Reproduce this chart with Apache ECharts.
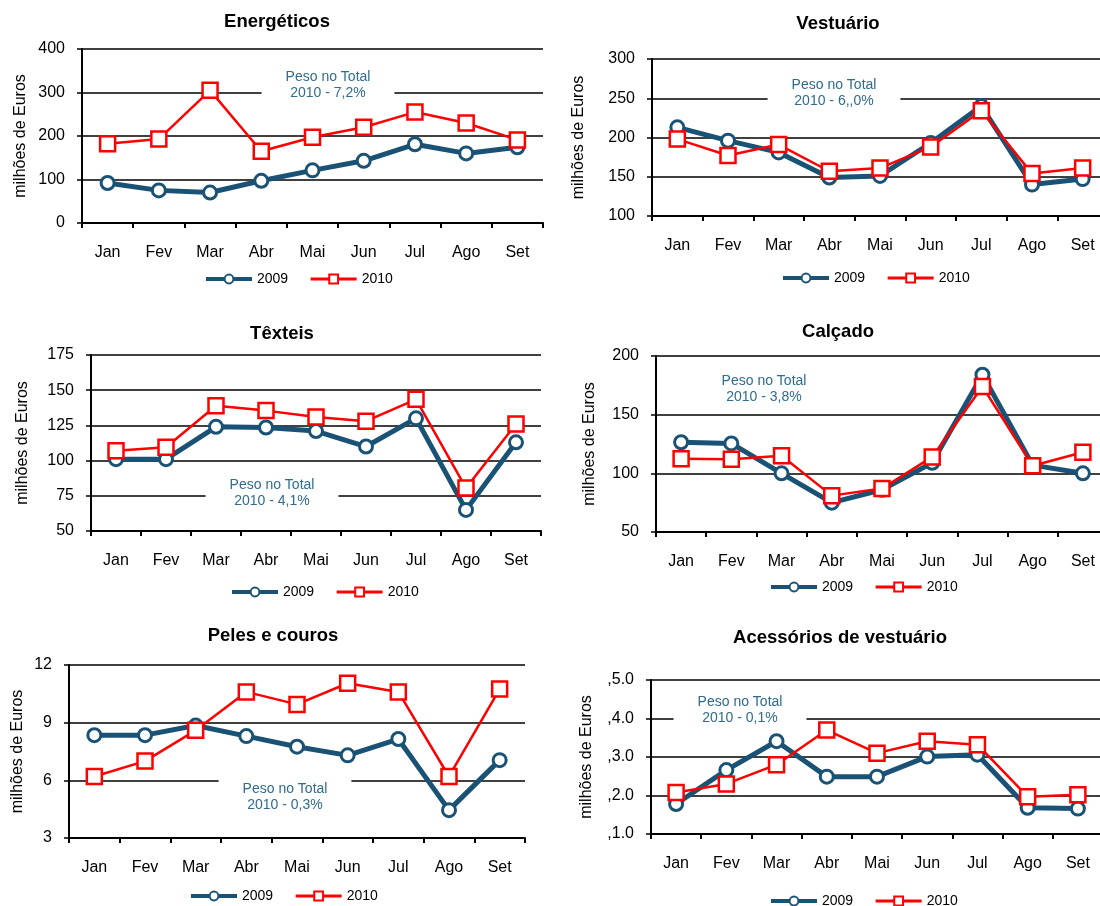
<!DOCTYPE html>
<html>
<head>
<meta charset="utf-8">
<script src="https://cdn.jsdelivr.net/npm/echarts@6/dist/echarts.min.js"></script>
<style>
  html, body { margin: 0; padding: 0; background: #fff; }
  #chart { width: 1100px; height: 906px; }
</style>
</head>
<body>
<div id="chart"></div>
<script>
// meses (eixo das categorias)
var meses = ["Jan", "Fev", "Mar", "Abr", "Mai", "Jun", "Jul", "Ago", "Set"];
var anos = ["2009", "2010"];

// valores (milhões de euros)
var energeticos2009 = [92, 75, 70, 97, 121, 143, 181, 160, 174];
var energeticos2010 = [182, 193, 305, 165, 197, 220, 255, 230, 191];
var vestuario2009 = [213, 196, 181, 149, 151, 193, 240, 140, 147];
var vestuario2010 = [198, 177, 191, 157, 161, 188, 234, 154, 161];
var texteis2009 = [101, 101, 124, 123.5, 121, 110, 130, 65, 113];
var texteis2010 = [107, 109.5, 139, 135.5, 131, 128, 143.5, 80.5, 126];
var calcado2009 = [126.5, 125.5, 100, 75, 86, 109, 184, 107, 100];
var calcado2010 = [112.5, 112, 115, 81, 87, 114, 174, 106.5, 118];
var peles2009 = [8.35, 8.35, 8.85, 8.3, 7.75, 7.3, 8.15, 4.45, 7.05];
var peles2010 = [6.2, 7.0, 8.6, 10.6, 9.95, 11.05, 10.6, 6.2, 10.75];
var acessorios2009 = [1.78, 2.66, 3.41, 2.49, 2.49, 3.01, 3.06, 1.68, 1.66];
var acessorios2010 = [2.08, 2.30, 2.80, 3.70, 3.10, 3.41, 3.32, 1.97, 2.02];

// eixos y: min, max, intervalo
var eixosMin = [0, 100, 50, 50, 3, 1];
var eixosMax = [400, 300, 175, 200, 12, 5];
var eixosIntervalo = [100, 50, 25, 50, 3, 1];

var titulos = ["Energéticos", "Vestuário", "Têxteis", "Calçado", "Peles e couros", "Acessórios de vestuário"];
var notas = [
  "Peso no Total\n2010 - 7,2%",
  "Peso no Total\n2010 - 6,,0%",
  "Peso no Total\n2010 - 4,1%",
  "Peso no Total\n2010 - 3,8%",
  "Peso no Total\n2010 - 0,3%",
  "Peso no Total\n2010 - 0,1%"
];
var series2009 = [energeticos2009, vestuario2009, texteis2009, calcado2009, peles2009, acessorios2009];
var series2010 = [energeticos2010, vestuario2010, texteis2010, calcado2010, peles2010, acessorios2010];

// posicionamento de cada painel (px): grid [left, top, width, height]
// os painéis da direita saem um pouco do quadro, como no original
var paineis = [
  { grid: [82, 49, 461, 174], titulo: [277, 12], nota: [328, 66], legenda: [300, 267], gapNome: 53 },
  { grid: [652, 59, 456, 157], titulo: [838, 14], nota: [834, 74], legenda: [877, 266], gapNome: 65 },
  { grid: [91, 355, 450, 176], titulo: [282, 324], nota: [272, 474], legenda: [326, 580], gapNome: 60 },
  { grid: [656, 356, 452, 176], titulo: [838, 322], nota: [764, 370], legenda: [865, 575], gapNome: 58 },
  { grid: [69, 665, 456, 173], titulo: [273, 626], nota: [285, 778], legenda: [285, 884], gapNome: 43 },
  { grid: [651, 680, 452, 154], titulo: [840, 628], nota: [740, 691], legenda: [865, 889], gapNome: 56 }
];

var fonte = "'Liberation Sans', Arial, sans-serif";
var cor2009 = "#1a5275";
var cor2010 = "#ff0000";
var corNota = "#2f6c8e";
var padNota = 24;

var chart = echarts.init(document.getElementById("chart"));

var grids = [], xAxes = [], yAxes = [], titles = [], legends = [], series = [];

paineis.forEach(function (p, i) {
  grids.push({
    left: p.grid[0], top: p.grid[1], width: p.grid[2], height: p.grid[3],
    outerBoundsMode: "none"
  });

  xAxes.push({
    gridIndex: i,
    type: "category",
    data: meses,
    boundaryGap: true,
    axisLine: { lineStyle: { color: "#000", width: 2 } },
    axisTick: { show: true, length: 5, lineStyle: { color: "#000", width: 2 } },
    axisLabel: { color: "#000", fontSize: 16, fontFamily: fonte, margin: 22 }
  });

  yAxes.push({
    gridIndex: i,
    type: "value",
    min: eixosMin[i],
    max: eixosMax[i],
    interval: eixosIntervalo[i],
    name: "milhões de Euros",
    nameLocation: "middle",
    nameRotate: 90,
    nameGap: p.gapNome,
    nameTextStyle: { color: "#000", fontSize: 16, fontFamily: fonte },
    axisLine: { show: true, lineStyle: { color: "#000", width: 2 } },
    axisTick: { show: true, length: 5, lineStyle: { color: "#000", width: 1.5 } },
    splitLine: { show: true, lineStyle: { color: "#000", width: 1.5 } },
    axisLabel: {
      color: "#000", fontSize: 16, fontFamily: fonte, margin: 17,
      formatter: i === 5 ? function (v) { return "," + v.toFixed(1); } : null
    }
  });

  titles.push({
    text: titulos[i],
    left: p.titulo[0],
    top: p.titulo[1],
    textAlign: "center",
    padding: 0,
    textStyle: { fontSize: 18.5, fontWeight: "bold", color: "#000", fontFamily: fonte }
  });

  // caixa branca da nota: fica por cima das linhas de grelha, por baixo das séries
  titles.push({
    text: notas[i],
    left: p.nota[0] - padNota,
    top: p.nota[1],
    textAlign: "center",
    padding: [3, padNota],
    backgroundColor: "#fff",
    z: 1,
    textStyle: { fontSize: 14, fontWeight: "normal", color: corNota, fontFamily: fonte, lineHeight: 16 }
  });

  legends.push({
    data: [
      { name: "2009", lineStyle: { width: 4 } },
      { name: "2010", lineStyle: { width: 3 } }
    ],
    left: p.legenda[0] - 101,
    top: p.legenda[1],
    itemWidth: 46,
    itemHeight: 11,
    itemGap: 21,
    textStyle: { fontSize: 14, color: "#000", fontFamily: fonte },
    selectedMode: false
  });

  series.push({
    name: "2009",
    type: "line",
    xAxisIndex: i,
    yAxisIndex: i,
    data: series2009[i],
    symbol: "circle",
    symbolSize: 13,
    lineStyle: { color: cor2009, width: 5 },
    itemStyle: { color: "#fff", borderColor: cor2009, borderWidth: 3 },
    emphasis: { disabled: true },
    z: 2
  });

  series.push({
    name: "2010",
    type: "line",
    xAxisIndex: i,
    yAxisIndex: i,
    data: series2010[i],
    symbol: "rect",
    symbolSize: 15,
    lineStyle: { color: cor2010, width: 2.5 },
    itemStyle: { color: "#fff", borderColor: cor2010, borderWidth: 2.5 },
    emphasis: { disabled: true },
    z: 3
  });
});

chart.setOption({
  backgroundColor: "#fff",
  animation: false,
  title: titles,
  legend: legends,
  grid: grids,
  xAxis: xAxes,
  yAxis: yAxes,
  series: series
});
</script>
</body>
</html>
